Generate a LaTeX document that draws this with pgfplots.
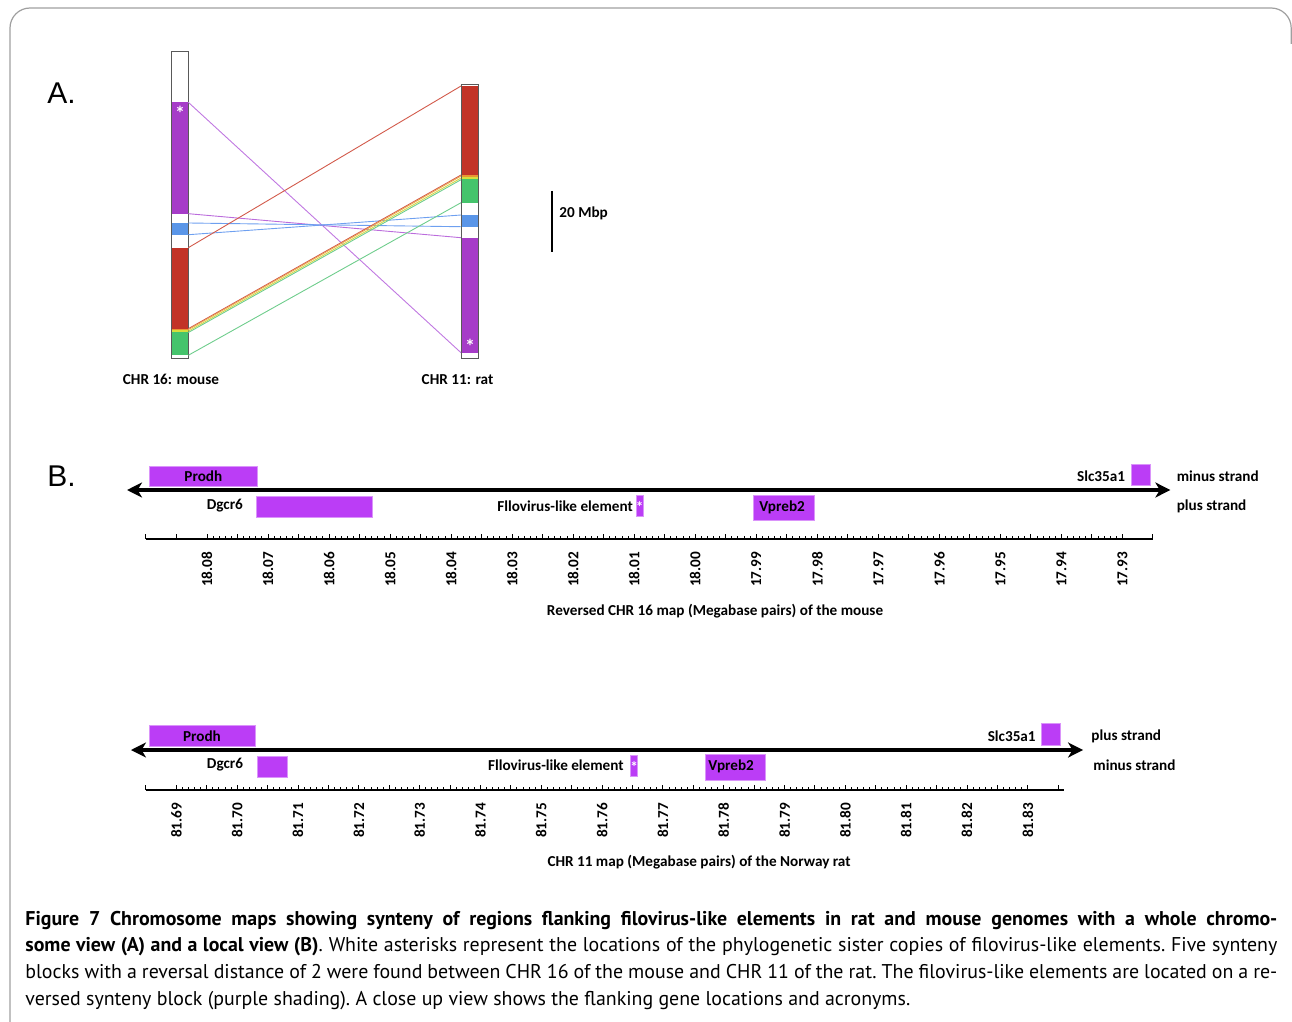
\documentclass[border=0pt]{standalone}
\usepackage{fontspec}
\setmainfont{PT Sans}
\newfontfamily\lab{Carlito}
\newfontfamily\arial{Liberation Sans}
\usepackage{pgfplots}
\pgfplotsset{compat=1.18}
\usetikzlibrary{arrows.meta}
\definecolor{cpurple}{RGB}{166,60,200}
\definecolor{cred}{RGB}{194,51,39}
\definecolor{cblue}{RGB}{90,150,232}
\definecolor{cgreen}{RGB}{69,196,108}
\definecolor{cyellow}{RGB}{214,222,60}
\definecolor{corange}{RGB}{232,150,50}
\definecolor{gpurple}{RGB}{187,61,246}
\definecolor{lpurple}{RGB}{192,120,225}
\definecolor{lred}{RGB}{210,90,75}
\definecolor{lblue}{RGB}{110,160,240}
\definecolor{lgreen}{RGB}{110,205,140}
\definecolor{lyellow}{RGB}{215,215,70}
\definecolor{lorange}{RGB}{235,165,80}
\newcommand{\lf}{\lab\bfseries\fontsize{7.6}{9}\selectfont}
\newcommand{\capfont}{\frenchspacing\fontsize{9.95}{13}\selectfont}
\newcommand{\cblk}[5]{\addplot[fill=#5, draw=none] coordinates {(#1,#3) (#2,#3) (#2,#4) (#1,#4)} -- cycle;}
\newcommand{\gbox}[4]{\addplot[fill=gpurple, draw=gpurple!55!white, line width=0.4pt] coordinates {(#1,#3) (#2,#3) (#2,#4) (#1,#4)} -- cycle;}
\pgfplotsset{
  strandaxis/.style={
    anchor=north west, scale only axis, clip=false,
    axis x line=bottom, axis y line=none,
    x axis line style={line width=1pt, -},
    tick align=inside,
    major tick length=2.5pt, minor tick length=1.5pt,
    tick style={line width=0.5pt, black},
    minor x tick num=9,
    extra x tick labels={},
    extra x tick style={major tick length=2.5pt},
    xticklabel shift=3pt,
    xticklabel style={rotate=90, anchor=east, font=\lab\bfseries\fontsize{7.6}{9}\selectfont},
    /pgf/number format/.cd, fixed, fixed zerofill, precision=2, assume math mode=true, /pgfplots/.cd,
  }
}
\begin{document}
\begin{tikzpicture}
\useasboundingbox (0,0) rectangle (646pt,-511pt);
\draw[line width=0.6pt, color=gray!75, rounded corners=10pt] (5pt,-512pt) -- (5pt,-4pt) -- (645.6pt,-4pt) -- (645.6pt,-22pt);
\node[anchor=west, inner sep=0] at (23.5pt,-46.5pt) {\arial\fontsize{15}{18}\selectfont A.};
\node[anchor=west, inner sep=0] at (23.5pt,-238pt) {\arial\fontsize{15}{18}\selectfont B.};

% ---------------- Panel A (x: layout position, y: Mbp from top of mouse CHR 16)
\begin{axis}[at={(50pt,-2.625pt)}, anchor=north west, scale only axis,
  width=275pt, height=183pt, xmin=100, xmax=650, ymin=-15, ymax=105,
  y dir=reverse, axis lines=none, clip=false]
% mouse CHR 16
\cblk{171}{188.3}{0}{100.66}{white}
\cblk{171}{188.3}{16.82}{53.34}{cpurple}
\cblk{171}{188.3}{56.39}{60.23}{cblue}
\cblk{171}{188.3}{64.49}{91.05}{cred}
\cblk{171}{188.3}{91.05}{91.48}{corange}
\cblk{171}{188.3}{91.48}{92.13}{cyellow}
\cblk{171}{188.3}{92.13}{99.77}{cgreen}
\addplot[draw=black!65, line width=0.5pt] coordinates {(171,0) (188.3,0) (188.3,100.66) (171,100.66)} -- cycle;
% rat CHR 11
\cblk{461}{478.5}{10.82}{100.75}{white}
\cblk{461}{478.5}{11.48}{40.66}{cred}
\cblk{461}{478.5}{40.66}{41.15}{corange}
\cblk{461}{478.5}{41.15}{42.07}{cyellow}
\cblk{461}{478.5}{42.07}{49.74}{cgreen}
\cblk{461}{478.5}{53.77}{57.61}{cblue}
\cblk{461}{478.5}{61.21}{98.92}{cpurple}
\addplot[draw=black!65, line width=0.5pt] coordinates {(461,10.82) (478.5,10.82) (478.5,100.75) (461,100.75)} -- cycle;
% synteny lines
\addplot[lpurple, line width=0.45pt] coordinates {(188.3,16.82) (461,98.92)};
\addplot[lpurple!80!cpurple, line width=0.45pt] coordinates {(188.3,53.34) (461,61.21)};
\addplot[lblue, line width=0.45pt] coordinates {(188.3,56.39) (461,57.61)};
\addplot[lblue, line width=0.45pt] coordinates {(188.3,60.23) (461,53.77)};
\addplot[lred, line width=0.45pt] coordinates {(188.3,64.49) (461,11.48)};
\addplot[lred, line width=0.45pt] coordinates {(188.3,91.05) (461,40.66)};
\addplot[lorange, line width=0.45pt] coordinates {(188.3,91.35) (461,41.0)};
\addplot[lyellow, line width=0.45pt] coordinates {(188.3,91.85) (461,41.65)};
\addplot[lgreen, line width=0.45pt] coordinates {(188.3,92.3) (461,42.2)};
\addplot[lgreen, line width=0.45pt] coordinates {(188.3,99.77) (461,49.74)};
% scale bar 20 Mbp
\addplot[black, line width=0.6pt] coordinates {(552,45.9) (552,65.9)};
\node[anchor=west, font=\lf, inner sep=0] at (axis cs:559,53.3) {20 Mbp};
\node[text=white, font=\lab\bfseries\fontsize{10}{10}\selectfont, inner sep=0] at (axis cs:180,20.6) {*};
\node[text=white, font=\lab\bfseries\fontsize{10}{10}\selectfont, inner sep=0] at (axis cs:470,96.7) {*};
\node[font=\lf] at (axis cs:171,107.6) {CHR 16: mouse};
\node[font=\lf] at (axis cs:457.5,107.6) {CHR 11: rat};
\end{axis}

% ---------------- Panel B, mouse (reversed CHR 16, Mbp)
\begin{axis}[strandaxis, at={(73pt,-230pt)}, width=503.5pt, height=39.5pt,
  xmin=17.925, xmax=18.09, x dir=reverse, ymin=-49, ymax=30,
  xtick={17.93,17.94,17.95,17.96,17.97,17.98,17.99,18.00,18.01,18.02,18.03,18.04,18.05,18.06,18.07,18.08},
  extra x ticks={17.925,17.935,17.945,17.955,17.965,17.975,17.985,17.995,18.005,18.015,18.025,18.035,18.045,18.055,18.065,18.075,18.085,18.09}]
\addplot[black, line width=2pt, arrows={Stealth[length=7.5pt,width=7.5pt,inset=2.2pt]-Stealth[length=7.5pt,width=7.5pt,inset=2.2pt]}] coordinates {(18.09311,0) (17.92215,0)};
\gbox{18.08951}{18.07168}{4}{24}
\gbox{18.07184}{18.05298}{-6}{-27}
\gbox{18.00972}{18.00853}{-5}{-26.7}
\gbox{17.99043}{17.98044}{-5}{-30.7}
\gbox{17.92858}{17.92547}{4.3}{25.7}
\node[font=\lf] at (axis cs:18.0806,14) {Prodh};
\node[font=\lf] at (axis cs:18.07708,-16) {Dgcr6};
\node[font=\lf, anchor=east, inner sep=0] at (axis cs:18.01016,-16) {Fllovirus-like element};
\node[font=\lf, anchor=west, inner sep=0] at (axis cs:17.98955,-17) {Vpreb2};
\node[font=\lf, anchor=east, inner sep=0] at (axis cs:17.92951,14) {Slc35a1};
\node[font=\lf, anchor=west, inner sep=0] at (axis cs:17.92117,14) {minus strand};
\node[font=\lf, anchor=west, inner sep=0] at (axis cs:17.92117,-16) {plus strand};
\node[font=\lf, text=white, inner sep=0] at (axis cs:18.00912,-17) {*};
\node[font=\lf] at (axis cs:17.99675,-121) {Reversed CHR 16 map (Megabase pairs) of the mouse};
\end{axis}

% ---------------- Panel B, rat (CHR 11, Mbp)
\begin{axis}[strandaxis, at={(73pt,-360pt)}, width=459.15pt, height=35pt,
  xmin=81.685, xmax=81.836, ymin=-40, ymax=30,
  xtick={81.69,81.70,81.71,81.72,81.73,81.74,81.75,81.76,81.77,81.78,81.79,81.80,81.81,81.82,81.83},
  extra x ticks={81.685,81.695,81.705,81.715,81.725,81.735,81.745,81.755,81.765,81.775,81.785,81.795,81.805,81.815,81.825,81.835}]
\addplot[black, line width=2pt, arrows={Stealth[length=7.5pt,width=7.5pt,inset=2.2pt]-Stealth[length=7.5pt,width=7.5pt,inset=2.2pt]}] coordinates {(81.68253,0) (81.83909,0)};
\gbox{81.68549}{81.70292}{3.3}{25}
\gbox{81.70325}{81.70830}{-6}{-27.3}
\gbox{81.76464}{81.76586}{-5}{-26.7}
\gbox{81.77697}{81.78684}{-4}{-30}
\gbox{81.83229}{81.83530}{5}{26.7}
\node[font=\lf] at (axis cs:81.6942,14) {Prodh};
\node[font=\lf] at (axis cs:81.69799,-15) {Dgcr6};
\node[font=\lf, anchor=east, inner sep=0] at (axis cs:81.76361,-15) {Fllovirus-like element};
\node[font=\lf, anchor=west, inner sep=0] at (axis cs:81.77742,-16) {Vpreb2};
\node[font=\lf, anchor=east, inner sep=0] at (axis cs:81.83136,14) {Slc35a1};
\node[font=\lf, anchor=west, inner sep=0] at (axis cs:81.8404,14) {plus strand};
\node[font=\lf, anchor=west, inner sep=0] at (axis cs:81.84073,-15) {minus strand};
\node[font=\lf, text=white, inner sep=0] at (axis cs:81.76525,-17) {*};
\node[font=\lf] at (axis cs:81.77594,-112) {CHR 11 map (Megabase pairs) of the Norway rat};
\end{axis}

% ---------------- caption
\node[anchor=base west, inner sep=0] at (12.5pt,-462.5pt) {\capfont\bfseries\makebox[626pt][s]{Figure 7 Chromosome maps showing synteny of regions flanking filovirus-like elements in rat and mouse genomes with a whole chromo-}};
\node[anchor=base west, inner sep=0] at (12.5pt,-475.5pt) {\capfont\makebox[626pt][s]{\textbf{some view (A) and a local view (B)}. White asterisks represent the locations of the phylogenetic sister copies of filovirus-like elements. Five synteny}};
\node[anchor=base west, inner sep=0] at (12.5pt,-489pt) {\capfont\makebox[626pt][s]{blocks with a reversal distance of 2 were found between CHR 16 of the mouse and CHR 11 of the rat. The filovirus-like elements are located on a re-}};
\node[anchor=base west, inner sep=0] at (12.5pt,-502.5pt) {\capfont versed synteny block (purple shading). A close up view shows the flanking gene locations and acronyms.};
\end{tikzpicture}
\end{document}
